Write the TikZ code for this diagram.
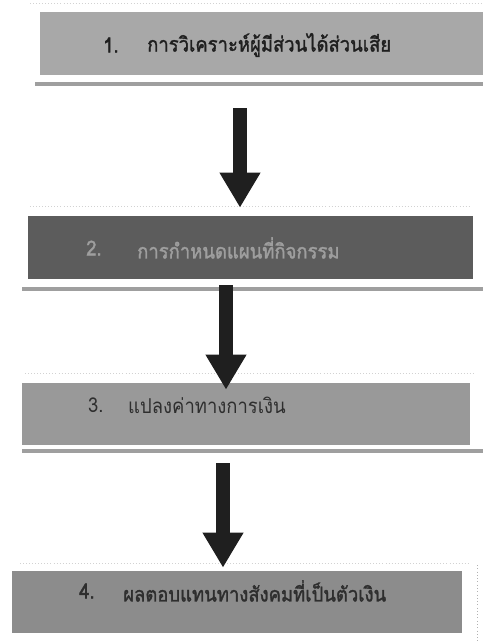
\documentclass[tikz,border=0pt]{standalone}
\usepackage{fontspec}
\newfontfamily\thaifont[Script=Thai, FakeStretch=0.9]{Loma}
\newfontfamily\thaibold[Script=Thai, FakeStretch=0.9, FakeBold=1.6]{Loma}
\usetikzlibrary{arrows.meta}
\definecolor{boxone}{gray}{0.66}
\definecolor{boxtwo}{gray}{0.36}
\definecolor{boxthree}{gray}{0.60}
\definecolor{boxfour}{gray}{0.55}
\tikzset{
  stagebox/.style={draw=none, anchor=north west},
  stagetext/.style={anchor=west, font=\thaifont\fontsize{17.5}{20}\selectfont, inner sep=0pt},
  boldtext/.style={stagetext, font=\thaibold\fontsize{17.5}{20}\selectfont},
  shadowline/.style={gray!75, line width=2.8pt},
  bigarrow/.style={line width=11.9pt, black!88, -{Triangle[width=33pt, length=30pt]}}
}
\begin{document}
\begin{tikzpicture}[x=0.03cm, y=-0.03cm]
\useasboundingbox (0,0) rectangle (483,641);
% stage boxes
\fill[boxone] (40,12) rectangle (483,75);
\fill[boxtwo] (28,216) rectangle (473,279);
\fill[boxthree] (22,383) rectangle (470,445);
\fill[boxfour] (12,571) rectangle (462,633);
\node[stagebox] (box1) at (40,12) [minimum width=443*0.03cm, minimum height=63*0.03cm] {};
\node[stagebox] (box2) at (28,216) [minimum width=445*0.03cm, minimum height=63*0.03cm] {};
\node[stagebox] (box3) at (22,383) [minimum width=448*0.03cm, minimum height=62*0.03cm] {};
\node[stagebox] (box4) at (12,571) [minimum width=450*0.03cm, minimum height=62*0.03cm] {};
% shadow lines
\draw[shadowline] (35,84)--(483,84);
\draw[shadowline] (22,289)--(483,289);
\draw[shadowline] (22,451)--(483,451);
\draw[gray!60, dotted, line width=0.8pt] (477,565)--(477,641);
\draw[gray!35, dotted, line width=0.6pt] (30,3)--(483,3);
\draw[gray!35, dotted, line width=0.6pt] (30,206)--(470,206);
\draw[gray!35, dotted, line width=0.6pt] (25,373)--(475,373);
\draw[gray!35, dotted, line width=0.6pt] (20,563)--(470,563);
% texts
\node[boldtext, text=black!88] (num1) at (103,45) {1.};
\node[boldtext, text=black!88] (txt1) at (147,45) {การวิเคราะห์ผู้มีส่วนได้ส่วนเสีย};
\node[boldtext, text=black!38] (num2) at (86,248) {2.};
\node[boldtext, text=black!38] (txt2) at (137,248) {การกำหนดแผนที่กิจกรรม};
\node[stagetext, text=black!82] (num3) at (88,405) {3.};
\node[stagetext, text=black!82] (txt3) at (128,405) {แปลงค่าทางการเงิน};
\node[boldtext, text=black!82] (num4) at (79,591) {4.};
\node[boldtext, text=black!82] (txt4) at (123,591) {ผลตอบแทนทางสังคมที่เป็นตัวเงิน};
% arrows
\coordinate (a1) at (240,108);
\coordinate (a2) at (226,285);
\coordinate (a3) at (223,463);
\draw[bigarrow] (a1) -- ([yshift=0.25cm]a1 |- box2.north);
\draw[bigarrow] (a2) -- ([yshift=-0.2cm]a2 |- box3.north);
\draw[bigarrow] (a3) -- ([yshift=0.1cm]a3 |- box4.north);
\end{tikzpicture}
\end{document}
